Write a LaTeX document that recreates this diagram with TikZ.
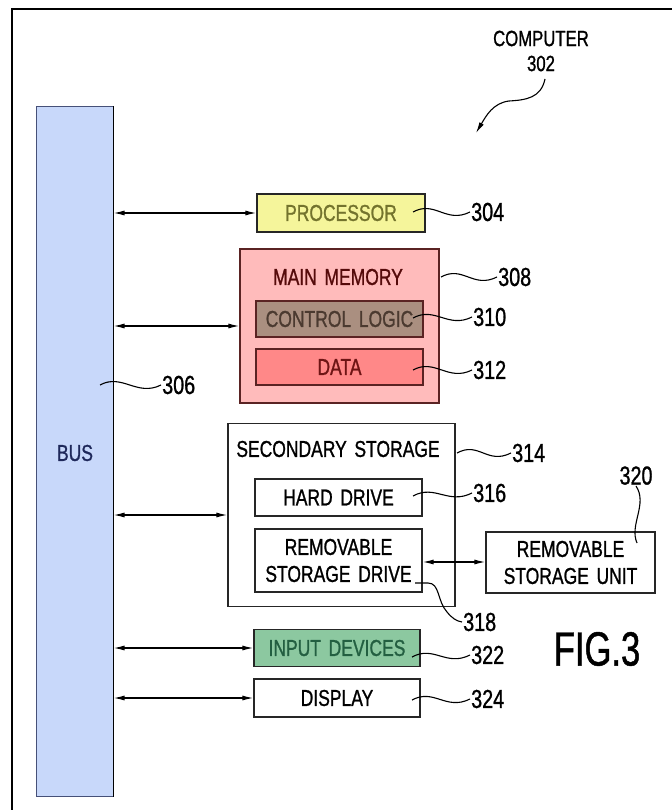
\documentclass[tikz,border=0pt]{standalone}
\usepackage{fontspec}
\setmainfont{Liberation Sans}[FakeStretch=0.76,FakeBold=1]
\newfontfamily\figfont{Liberation Sans}[FakeStretch=0.72,FakeBold=1]
\usetikzlibrary{arrows.meta}
\definecolor{busfill}{RGB}{200,216,250}
\definecolor{busdraw}{RGB}{70,80,120}
\definecolor{bustext}{RGB}{30,40,90}
\definecolor{procfill}{RGB}{245,245,155}
\definecolor{proctext}{RGB}{115,115,45}
\definecolor{memfill}{RGB}{255,187,187}
\definecolor{memdraw}{RGB}{90,35,35}
\definecolor{memtext}{RGB}{85,10,10}
\definecolor{ctrlfill}{RGB}{170,143,128}
\definecolor{ctrltext}{RGB}{75,58,48}
\definecolor{datafill}{RGB}{255,136,136}
\definecolor{datatext}{RGB}{110,20,20}
\definecolor{inpfill}{RGB}{140,200,160}
\definecolor{inptext}{RGB}{35,95,65}
\newcommand\boxfont{\fontsize{23}{27}\selectfont}
\newcommand\numfont{\fontsize{26}{28}\selectfont}
\begin{document}
\begin{tikzpicture}[x=1pt,y=-1pt,
  box/.style={draw=black!85, line width=1.3pt, inner sep=0pt, font=\boxfont, align=center},
  arr/.style={line width=1.2pt, {Latex[length=11pt,width=5pt]}-{Latex[length=11pt,width=5pt]}},
  lead/.style={line width=1.1pt},
  num/.style={font=\numfont, inner sep=1pt, anchor=west}]
\useasboundingbox (0,0) rectangle (671,810);
% frame
\draw[line width=2pt] (12,812) -- (12,9) -- (673,9);
% bus
\node[draw=busdraw, line width=1pt, fill=busfill, minimum width=77pt, minimum height=689pt, inner sep=0pt] (bus) at (74.5,451.5) {};
\draw[line width=1.5pt] (bus.north east) -- (bus.south east);
\node[font=\boxfont, text=bustext] (bustxt) at (75,453) {BUS};
% processor
\node[box, fill=procfill, text=proctext, minimum width=168pt, minimum height=38pt] (proc) at (341,213) {PROCESSOR};
% main memory
\node[box, draw=memdraw, fill=memfill, minimum width=199pt, minimum height=154pt] (mem) at (339.5,326) {};
\node[font=\boxfont, text=memtext] (memtitle) at (338,277) {MAIN\,\,MEMORY};
\node[box, draw=memdraw, fill=ctrlfill, text=ctrltext, minimum width=167pt, minimum height=36pt] (ctrl) at (339.5,319) {CONTROL\,\,LOGIC};
\node[box, draw=memdraw, fill=datafill, text=datatext, minimum width=167pt, minimum height=36pt] (data) at (339.5,367) {DATA};
% secondary storage
\node[box, minimum width=227pt, minimum height=183pt] (sec) at (341.5,515) {};
\node[font=\boxfont] (sectitle) at (338,449) {SECONDARY\,\,STORAGE};
\node[box, minimum width=167pt, minimum height=37pt] (hd) at (338.5,497.5) {HARD\,\,DRIVE};
\node[box, minimum width=167pt, minimum height=63pt] (rsd) at (338.5,560.5) {REMOVABLE\\STORAGE\,\,DRIVE};
\node[box, minimum width=169pt, minimum height=61pt] (rsu) at (570.5,562.5) {REMOVABLE\\STORAGE\,\,UNIT};
% input / display
\node[box, fill=inpfill, text=inptext, minimum width=166pt, minimum height=37pt] (inp) at (337,648) {INPUT\,\,DEVICES};
\node[box, minimum width=166pt, minimum height=38pt] (disp) at (337,698) {DISPLAY};
% bus connectors
\draw[arr] (proc.west -| bus.east) -- (proc.west);
\draw[arr] (mem.west -| bus.east) -- (mem.west);
\draw[arr] (sec.west -| bus.east) -- (sec.west);
\draw[arr] (inp.west -| bus.east) -- (inp.west);
\draw[arr] (disp.west -| bus.east) -- (disp.west);
\draw[arr] (rsd.east |- 0,562) -- (rsu.west |- 0,562);
% computer label
\node[font=\fontsize{22}{25}\selectfont, align=center, inner sep=0pt] (n302) at (541,51) {COMPUTER\\302};
\coordinate (c302a) at (545,79);
\coordinate (c302b) at (476,133);
\draw[line width=1.1pt, -{Latex[length=11pt,width=5pt]}] (c302a) .. controls (541,98) and (526,100) .. (509,101) .. controls (493,103) and (486,116) .. (c302b);
% reference numerals with leaders
\coordinate (l304) at (413,212);
\node[num] (n304) at (470,212) {304};
\draw[lead] (l304) .. controls +(22,-12) and +(-24,12) .. (n304.west);
\coordinate (l308) at (441,277);
\node[num] (n308) at (497,277) {308};
\draw[lead] (l308) .. controls +(22,-12) and +(-24,12) .. (n308.west);
\coordinate (l310) at (413,318);
\node[num] (n310) at (472,317) {310};
\draw[lead] (l310) .. controls +(22,-12) and +(-24,12) .. (n310.west);
\coordinate (l312) at (413,370);
\node[num] (n312) at (472,370) {312};
\draw[lead] (l312) .. controls +(22,-12) and +(-24,12) .. (n312.west);
\coordinate (l306) at (100,385);
\node[num] (n306) at (161,385) {306};
\draw[lead] (l306) .. controls +(22,-12) and +(-24,12) .. (n306.west);
\coordinate (l314) at (457,453);
\node[num] (n314) at (511,453) {314};
\draw[lead] (l314) .. controls +(22,-12) and +(-24,12) .. (n314.west);
\coordinate (l316) at (413,496);
\node[num] (n316) at (472,493) {316};
\draw[lead] (l316) .. controls +(22,-12) and +(-24,12) .. (n316.west);
\node[num, anchor=south] (n320) at (636,486) {320};
\coordinate (l320) at (637,543);
\draw[lead] (n320.south) .. controls +(12,18) and +(-8,-18) .. (l320);
\coordinate (l318) at (415,583);
\node[num] (n318) at (462,622) {318};
\draw[lead] (l318) -- (428,583) .. controls (440,583) and (437,601) .. (447,612) .. controls (452,618) and (456,621) .. (n318.west);
\coordinate (l322) at (412,657);
\node[num] (n322) at (470,655) {322};
\draw[lead] (l322) .. controls +(22,-12) and +(-24,12) .. (n322.west);
\coordinate (l324) at (412,700);
\node[num] (n324) at (470,699) {324};
\draw[lead] (l324) .. controls +(22,-12) and +(-24,12) .. (n324.west);
% figure label
\node[font=\figfont\fontsize{48}{50}\selectfont, inner sep=0pt] (fig) at (597,649) {FIG.3};
\end{tikzpicture}
\end{document}
